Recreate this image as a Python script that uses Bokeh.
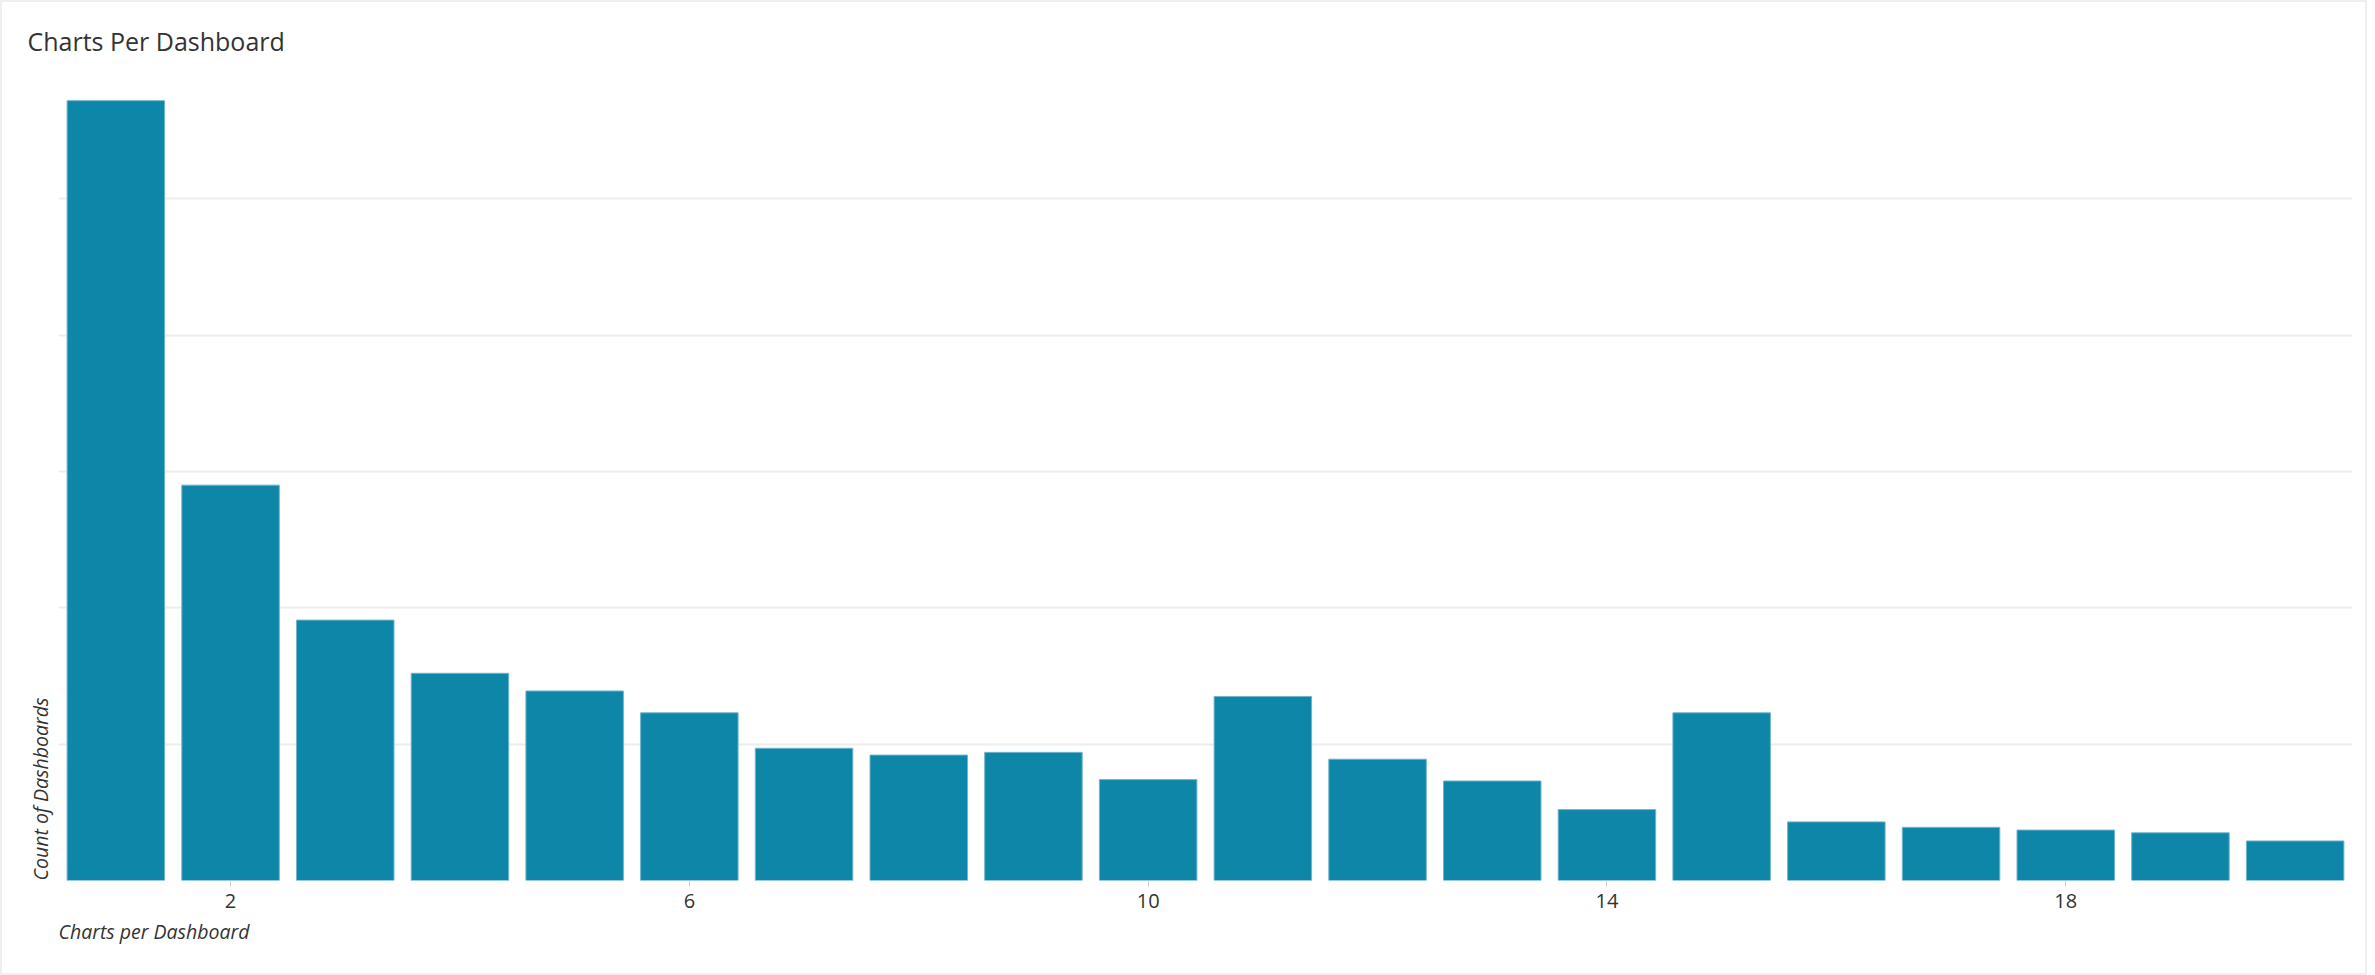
from bokeh.plotting import figure
from bokeh.models import FixedTicker, Title, ColumnDataSource, Range1d
from bokeh.embed import file_html
from bokeh.resources import INLINE

charts = list(range(1, 21))
dashboards = [572, 290, 191, 152, 139, 123, 97, 92, 94, 74,
              135, 89, 73, 52, 123, 43, 39, 37, 35, 29]
x_ticks = [2, 6, 10, 14, 18]
y_grid = [0, 100, 200, 300, 400, 500]

src = ColumnDataSource(dict(x=charts, y=dashboards))

p = figure(width=2367, height=975, output_backend="svg", toolbar_location=None,
           x_range=Range1d(0.5, 20.5), y_range=Range1d(0, 600),
           min_border_left=58, min_border_right=15, min_border_top=62, min_border_bottom=95)
p.border_fill_color = None
p.styles = {"box-shadow": "inset 0 0 0 2px #efefef", "background-color": "white"}

p.title.text = "Charts Per Dashboard"
p.title.text_font = "Open Sans"
p.title.text_font_size = "25px"
p.title.text_font_style = "normal"
p.title.text_color = "#333333"
p.title.offset = -31

p.vbar(x="x", top="y", width=0.85, source=src, fill_color="#0E86A8",
       line_color="#6fb5cb", line_width=1)

p.outline_line_color = None
p.xgrid.grid_line_color = None
p.ygrid.ticker = FixedTicker(ticks=y_grid)
p.ygrid.grid_line_color = "#eeeeee"
p.ygrid.grid_line_width = 2

p.yaxis.visible = False
xa = p.xaxis[0]
xa.ticker = FixedTicker(ticks=x_ticks)
xa.axis_line_color = None
xa.major_tick_line_color = "#cccccc"
xa.major_tick_in = 0
xa.major_tick_out = 6
xa.minor_tick_line_color = None
xa.major_label_text_font = "Open Sans"
xa.major_label_text_font_size = "20px"
xa.major_label_text_color = "#333333"
xa.major_label_standoff = 7

p.add_layout(Title(text="Charts per Dashboard", align="left", text_font="Open Sans",
                   text_font_size="19.5px", text_font_style="italic", text_color="#333333"),
             "below")
p.add_layout(Title(text="Count of Dashboards", align="left", text_font="Open Sans",
                   text_font_size="19.5px", text_font_style="italic", text_color="#333333"),
             "left")

open("out.html", "w").write(file_html(p, INLINE))
